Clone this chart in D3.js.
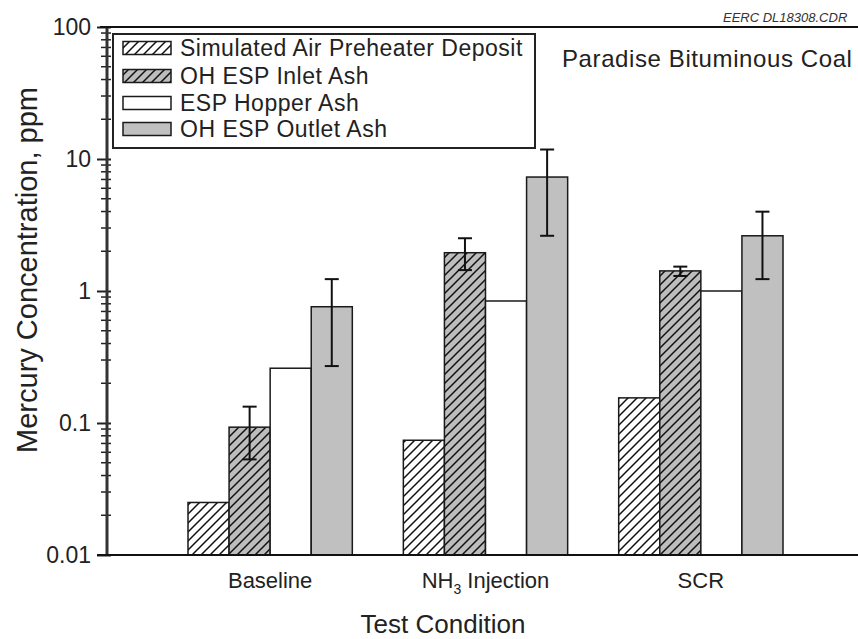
<!DOCTYPE html>
<html>
<head>
<meta charset="utf-8">
<script src="https://cdn.jsdelivr.net/npm/d3@7"></script>
<style>
  html, body { margin: 0; padding: 0; background: #fff; }
  svg { display: block; font-family: "Liberation Sans", Arial, Helvetica, sans-serif; }
</style>
</head>
<body>
<svg id="chart" width="858" height="639"></svg>
<script>
// Mercury concentration in ash samples, Paradise bituminous coal
const conditions = ["Baseline", "NH3 Injection", "SCR"];
const seriesNames = [
  "Simulated Air Preheater Deposit",
  "OH ESP Inlet Ash",
  "ESP Hopper Ash",
  "OH ESP Outlet Ash"
];
// ppm, one value per condition
const preheaterDeposit = [0.025, 0.074, 0.155];
const inletAsh        = [0.093, 1.95, 1.42];
const hopperAsh       = [0.26, 0.84, 1.0];
const outletAsh       = [0.76, 7.3, 2.62];
// error bar ranges (low / high)
const inletLow   = [0.053, 1.44, 1.30];
const inletHigh  = [0.133, 2.51, 1.53];
const outletLow  = [0.27, 2.62, 1.23];
const outletHigh = [1.23, 11.8, 3.99];
const yTicks = [0.01, 0.1, 1, 10, 100];
const yTickLabels = ["0.01", "0.1", "1", "10", "100"];

const seriesValues = [preheaterDeposit, inletAsh, hopperAsh, outletAsh];
const seriesLow  = [null, inletLow, null, outletLow];
const seriesHigh = [null, inletHigh, null, outletHigh];

const svg = d3.select("#chart");
const plotLeft = 107, plotRight = 858, plotTop = 27, plotBottom = 555;

const y = d3.scaleLog().domain([0.01, 100]).range([plotBottom, plotTop]);
const x0 = d3.scaleBand().domain(conditions).range([188, 783]).paddingInner(0.237).paddingOuter(0);
const x1 = d3.scaleBand().domain(d3.range(seriesNames.length)).range([0, x0.bandwidth()]);

// hatch patterns
const defs = svg.append("defs");
function hatch(id, bg) {
  const p = defs.append("pattern").attr("id", id)
    .attr("patternUnits", "userSpaceOnUse").attr("width", 9).attr("height", 9);
  p.append("rect").attr("width", 9).attr("height", 9).attr("fill", bg);
  p.append("path").attr("d", "M-1,10 L10,-1 M-2,2 L2,-2 M7,11 L11,7")
    .attr("stroke", "#111").attr("stroke-width", 1.5);
}
hatch("hatchWhite", "#fff");
hatch("hatchGray", "#bdbdbd");
const fills = ["url(#hatchWhite)", "url(#hatchGray)", "#fff", "#c0c0c0"];

// bars
const bars = [];
conditions.forEach((c, ci) => {
  seriesValues.forEach((vals, si) => {
    bars.push({c, si, v: vals[ci],
      lo: seriesLow[si] ? seriesLow[si][ci] : null,
      hi: seriesHigh[si] ? seriesHigh[si][ci] : null});
  });
});

svg.append("g").selectAll("rect").data(bars).join("rect")
  .attr("x", d => x0(d.c) + x1(d.si))
  .attr("y", d => y(d.v))
  .attr("width", x1.bandwidth())
  .attr("height", d => y(0.01) - y(d.v))
  .attr("fill", d => fills[d.si])
  .attr("stroke", "#1a1a1a").attr("stroke-width", 1.5);

// error bars
const eb = svg.append("g").attr("stroke", "#111").attr("stroke-width", 2);
bars.filter(d => d.lo !== null).forEach(d => {
  const cx = x0(d.c) + x1(d.si) + x1.bandwidth() / 2;
  eb.append("line").attr("x1", cx).attr("x2", cx).attr("y1", y(d.lo)).attr("y2", y(d.hi));
  eb.append("line").attr("x1", cx - 7).attr("x2", cx + 7).attr("y1", y(d.lo)).attr("y2", y(d.lo));
  eb.append("line").attr("x1", cx - 7).attr("x2", cx + 7).attr("y1", y(d.hi)).attr("y2", y(d.hi));
});

// y axis with log minor ticks
const minor = [];
for (let e = -2; e < 2; e++) for (let k = 2; k <= 9; k++) minor.push(k * Math.pow(10, e));
const yAxis = d3.axisLeft(y).tickValues(yTicks).tickFormat((d, i) => yTickLabels[i])
  .tickSize(10).tickPadding(6);
const gy = svg.append("g").attr("transform", `translate(${plotLeft},0)`).call(yAxis);
gy.select(".domain").remove();
gy.selectAll(".tick line").attr("stroke", "#222").attr("stroke-width", 2).attr("x2", -10).attr("x1", 4);
gy.selectAll(".tick text").attr("font-size", 23).attr("fill", "#222")
  .attr("font-family", "Liberation Sans, Arial, sans-serif").attr("x", -16);
const gm = svg.append("g").attr("transform", `translate(${plotLeft},0)`);
gm.selectAll("line").data(minor).join("line")
  .attr("x1", -6).attr("x2", 4).attr("y1", d => y(d)).attr("y2", d => y(d))
  .attr("stroke", "#222").attr("stroke-width", 1.5);

// frame lines
svg.append("line").attr("x1", plotLeft).attr("x2", plotLeft).attr("y1", plotTop - 1).attr("y2", plotBottom + 1)
  .attr("stroke", "#333").attr("stroke-width", 3);
svg.append("line").attr("x1", 97).attr("x2", plotRight).attr("y1", plotBottom).attr("y2", plotBottom)
  .attr("stroke", "#111").attr("stroke-width", 2);
svg.append("line").attr("x1", 100).attr("x2", plotRight).attr("y1", plotTop).attr("y2", plotTop)
  .attr("stroke", "#111").attr("stroke-width", 2);

// x axis category labels
const xl = svg.append("g").attr("font-size", 22).attr("fill", "#222").attr("text-anchor", "middle");
conditions.forEach(c => {
  const t = xl.append("text").attr("x", x0(c) + x0.bandwidth() / 2).attr("y", 588);
  if (c === "NH3 Injection") {
    t.append("tspan").text("NH");
    t.append("tspan").text("3").attr("font-size", 14).attr("dy", 6);
    t.append("tspan").text(" Injection").attr("dy", -6);
  } else {
    t.text(c);
  }
});

// axis titles
svg.append("text").attr("x", 443).attr("y", 633).attr("text-anchor", "middle")
  .attr("font-size", 26).attr("fill", "#222").text("Test Condition");
svg.append("text").attr("transform", "translate(37,270) rotate(-90)").attr("text-anchor", "middle")
  .attr("font-size", 29).attr("fill", "#222").text("Mercury Concentration, ppm");

// annotation
svg.append("text").attr("x", 562).attr("y", 67).attr("font-size", 24).attr("letter-spacing", 0.6)
  .attr("fill", "#222").text("Paradise Bituminous Coal");
svg.append("text").attr("x", 723).attr("y", 22).attr("font-size", 13).attr("font-style", "italic")
  .attr("fill", "#333").text("EERC DL18308.CDR");

// legend
const lg = svg.append("g");
lg.append("rect").attr("x", 113).attr("y", 34).attr("width", 422).attr("height", 114)
  .attr("fill", "#fff").attr("stroke", "#222").attr("stroke-width", 2);
const rowY = [48, 76, 103, 129];
seriesNames.forEach((name, i) => {
  lg.append("rect").attr("x", 123).attr("y", rowY[i] - 6.5).attr("width", 48).attr("height", 13)
    .attr("fill", fills[i]).attr("stroke", "#1a1a1a").attr("stroke-width", 1.5);
  lg.append("text").attr("x", 180).attr("y", rowY[i] + 8).attr("font-size", 23)
    .attr("letter-spacing", 0.5).attr("fill", "#222").text(name);
});
</script>
</body>
</html>
